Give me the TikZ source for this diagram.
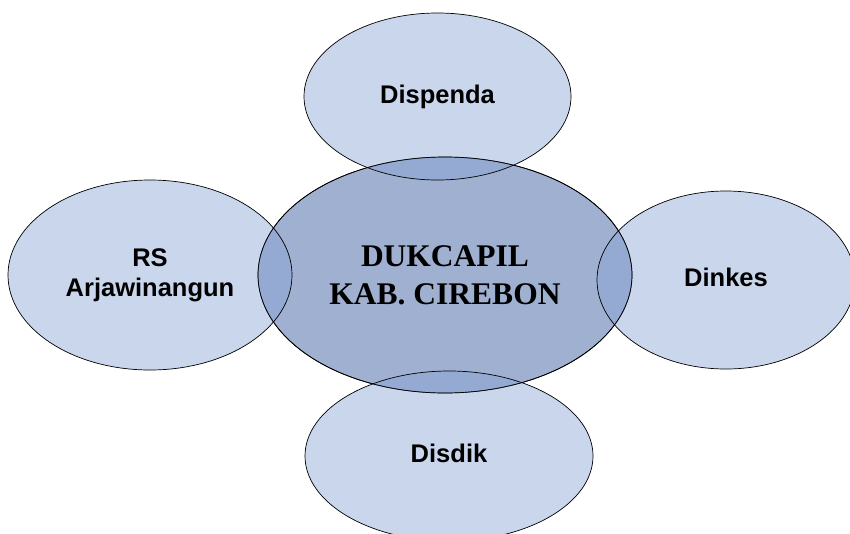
\documentclass[tikz,border=0pt]{standalone}
\usepackage{fontspec}
\setmainfont{Liberation Serif}
\setsansfont{Liberation Sans}
\usepackage{tikz}
\usetikzlibrary{shapes.geometric}
\definecolor{hubblue}{RGB}{159,176,208}
\definecolor{partnerblue}{RGB}{135,164,213}
\tikzstyle{hub} = [ellipse, draw, fill=hubblue, line width=0.7pt, inner sep=0pt, minimum width=374pt, minimum height=236pt, align=center, font=\fontsize{31.5}{38}\selectfont\rmfamily\bfseries]
\tikzstyle{partner} = [ellipse, draw, fill=partnerblue, fill opacity=0.45, text opacity=1, line width=0.7pt, inner sep=0pt, align=center, font=\fontsize{25.5}{30}\selectfont\sffamily\bfseries]

\begin{document}
\begin{tikzpicture}[x=1pt, y=-1pt]
	\useasboundingbox (0,0) rectangle (850,533);
	\clip (0,0) rectangle (850,533);
	\node [hub] (dukcapil) at (445,275) {DUKCAPIL\\KAB. CIREBON};
	\node [partner, above of=dukcapil, node distance=178.5pt, xshift=-7.5pt, minimum width=267pt, minimum height=167pt] (dispenda) {Dispenda};
	\node [partner, left of=dukcapil, node distance=295pt, minimum width=284pt, minimum height=190pt] (rs) {RS\\Arjawinangun};
	\node [partner, right of=dukcapil, node distance=281pt, yshift=-5pt, minimum width=258pt, minimum height=178pt] (dinkes) {\raisebox{6pt}{Dinkes}};
	\node [partner, below of=dukcapil, node distance=181pt, xshift=4pt, minimum width=288pt, minimum height=170pt] (disdik) {\raisebox{5pt}{Disdik}};
	% outline of the hub again, on top of the partners
	\draw [line width=0.7pt] (dukcapil.center) ellipse [x radius=187pt, y radius=118pt];
\end{tikzpicture}
\end{document}
